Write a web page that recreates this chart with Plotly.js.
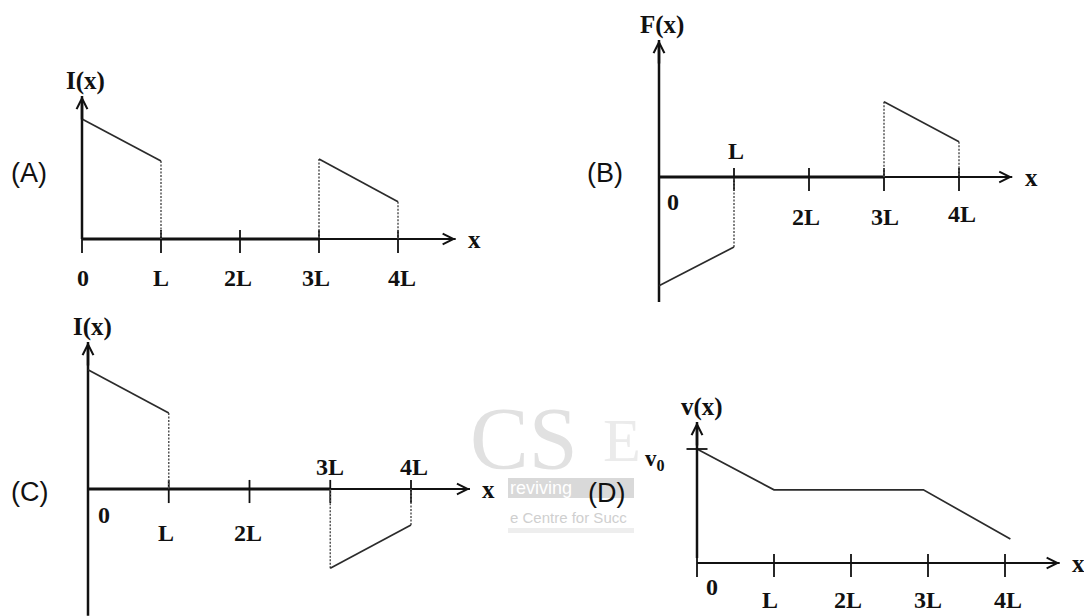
<!DOCTYPE html>
<html><head><meta charset="utf-8">
<script src="https://cdn.plot.ly/plotly-3.0.1.min.js"></script>
<style>html,body{margin:0;padding:0;background:#fff}#chart{width:1084px;height:616px}</style>
</head><body><div id="chart"></div>
<script>
// ---------- data (x in units of L) ----------
const xTicks = [0, 1, 2, 3, 4];
const tickLabels = ['0', 'L', '2L', '3L', '4L'];

// (A) I(x)
const aSeg1X = [0, 1], aSeg1Y = [3.0, 1.95];
const aSeg2X = [3, 4], aSeg2Y = [2.0, 0.93];
// (B) F(x)
const bSeg1X = [0, 1], bSeg1Y = [-2.72, -1.75];
const bSeg2X = [3, 4], bSeg2Y = [1.88, 0.88];
// (C) I(x)
const cSeg1X = [0, 1], cSeg1Y = [2.98, 1.9];
const cSeg2X = [3, 4], cSeg2Y = [-1.98, -0.9];
// (D) v(x)
const dX = [0, 1, 2.94, 4.07];
const dY = [2.85, 1.83, 1.83, 0.6];
const v0 = 2.85;

// ---------- layout config ----------
const W = 1084, H = 616;
const INK = '#111111', LINE = '#2b2b2b', DOT = '#555555';
const SERIF = 'Liberation Serif, Times New Roman, serif';
const SANS = 'Liberation Sans, Arial, sans-serif';

const panels = [
  {tag:'(A)', tagPos:[29,173], title:'I(x)', titleDx:3, ox:82, oy:239, ux:79, uy:40, box:[60,500,30,300],
   yBot:0, yTop:3.575, xTip:4.73, segs:[[aSeg1X,aSeg1Y],[aSeg2X,aSeg2Y]], thick:true,
   offs:[[1,39],[0,39],[-2,39],[-3,39],[4,39]]},
  {tag:'(B)', tagPos:[605,173], title:'F(x)', titleDx:3, ox:659, oy:177, ux:75, uy:40, box:[620,1084,0,306],
   yBot:-3.125, yTop:3.425, xTip:4.71, segs:[[bSeg1X,bSeg1Y],[bSeg2X,bSeg2Y]], thick:true,
   offs:[[14,25],[2,-26],[-3,40],[1,40],[3,37]]},
  {tag:'(C)', tagPos:[29,492], title:'I(x)', titleDx:4, ox:88, oy:489, ux:80.75, uy:40, box:[60,500,310,616],
   yBot:-3.17, yTop:3.675, xTip:4.73, segs:[[cSeg1X,cSeg1Y],[cSeg2X,cSeg2Y]], thick:true,
   offs:[[16,26],[-3,44],[-2,44],[0,-22],[3,-22]]},
  {tag:'(D)', tagPos:[606,493], title:'v(x)', titleDx:5, ox:697, oy:563, ux:77, uy:40, box:[640,1084,380,616],
   yBot:0.125, yTop:3.525, xTip:4.71, segs:[[dX,dY]], thick:false, v0:true,
   offs:[[15,24],[-4,37],[-3,37],[0,37],[3,37]]}
];

const layout = {
  width:W, height:H, autosize:false, margin:{l:0,r:0,t:0,b:0,pad:0},
  paper_bgcolor:'#ffffff', plot_bgcolor:'rgba(0,0,0,0)', showlegend:false, hovermode:false,
  annotations:[], shapes:[]
};
const traces = [];

function paperAnn(px, py, text, font, extra) {
  return Object.assign({xref:'paper', yref:'paper', x:px/W, y:1-py/H, text:text, showarrow:false, font:font,
    xanchor:'center', yanchor:'middle'}, extra||{});
}

// ---------- watermark (faint) ----------
layout.shapes.push({type:'rect', xref:'paper', yref:'paper', x0:508/W, x1:634/W, y0:1-498/H, y1:1-478/H,
  fillcolor:'#d9d9d9', line:{width:0}, layer:'below'});
layout.shapes.push({type:'rect', xref:'paper', yref:'paper', x0:508/W, x1:634/W, y0:1-533/H, y1:1-528/H,
  fillcolor:'#eeeeee', line:{width:0}, layer:'below'});
layout.annotations.push(paperAnn(580, 438, 'CS', {family:SERIF, size:88, color:'#e1e1e1'}, {xanchor:'right'}));
layout.annotations.push(paperAnn(601, 440, 'E', {family:SERIF, size:62, color:'#ebebeb'}, {xanchor:'left'}));
layout.annotations.push(paperAnn(508, 488, 'reviving', {family:SANS, size:18, color:'#ffffff'}, {xanchor:'left'}));
layout.annotations.push(paperAnn(508, 517, 'e Centre for Succ', {family:SANS, size:15, color:'#cfcfcf'}, {xanchor:'left'}));

// ---------- panels ----------
panels.forEach((p, i) => {
  const n = i === 0 ? '' : String(i + 1);
  const xa = 'x' + n, ya = 'y' + n;
  const [L, R, T, B] = p.box;
  layout['xaxis' + n] = {domain:[L/W, R/W], range:[(L-p.ox)/p.ux, (R-p.ox)/p.ux], anchor:ya,
    visible:false, fixedrange:true, showgrid:false, zeroline:false};
  layout['yaxis' + n] = {domain:[1-B/H, 1-T/H], range:[(p.oy-B)/p.uy, (p.oy-T)/p.uy], anchor:xa,
    visible:false, fixedrange:true, showgrid:false, zeroline:false};

  // axis lines (drawn through the axes' own scales)
  traces.push({type:'scatter', mode:'lines', xaxis:xa, yaxis:ya, x:[xTicks[0], p.xTip], y:[0, 0],
    line:{color:INK, width:2}});
  traces.push({type:'scatter', mode:'lines', xaxis:xa, yaxis:ya, x:[xTicks[0], xTicks[0]], y:[p.yBot, p.yTop],
    line:{color:INK, width:2.5}});

  // arrow heads
  layout.annotations.push({xref:xa, yref:ya, axref:xa, ayref:ya, x:p.xTip, y:0, ax:p.xTip - 0.3, ay:0,
    text:'', font:{size:1}, borderpad:0, showarrow:true, arrowhead:5, arrowsize:1.05, arrowwidth:2, arrowcolor:INK});
  layout.annotations.push({xref:xa, yref:ya, axref:xa, ayref:ya, x:xTicks[0], y:p.yTop, ax:xTicks[0], ay:p.yTop - 0.6,
    text:'', font:{size:1}, borderpad:0, showarrow:true, arrowhead:5, arrowsize:0.85, arrowwidth:2.5, arrowcolor:INK});

  // heavier baseline from 0 to 3L
  if (p.thick) {
    traces.push({type:'scatter', mode:'lines', xaxis:xa, yaxis:ya, x:[xTicks[0], xTicks[3]], y:[0, 0],
      line:{color:INK, width:3.2}});
  }

  // tick marks crossing the x axis
  traces.push({type:'scatter', mode:'markers', xaxis:xa, yaxis:ya, x:xTicks, y:xTicks.map(() => -2.5/p.uy),
    marker:{symbol:'line-ns-open', size:16.5, color:INK, line:{width:1.8, color:INK}}, cliponaxis:false});

  // dotted drop lines from segment ends to the axis
  const dx = [], dy = [];
  if (!p.v0) {
    p.segs.forEach(([sx, sy]) => {
      sx.forEach((xv, k) => { if (xv !== 0) { dx.push(xv, xv, null); dy.push(sy[k], 0, null); } });
    });
  }
  if (dx.length) {
    traces.push({type:'scatter', mode:'lines', xaxis:xa, yaxis:ya, x:dx, y:dy,
      line:{color:DOT, width:1.5, dash:'2px,1.5px'}});
  }

  // function segments
  p.segs.forEach(([sx, sy]) => {
    traces.push({type:'scatter', mode:'lines', xaxis:xa, yaxis:ya, x:sx, y:sy,
      line:{color:LINE, width:1.7}});
  });

  // v0 tick on the y axis
  if (p.v0) {
    traces.push({type:'scatter', mode:'markers', xaxis:xa, yaxis:ya, x:[xTicks[0]], y:[v0],
      marker:{symbol:'line-ew-open', size:15, color:INK, line:{width:1.8, color:INK}}, cliponaxis:false});
    layout.annotations.push({xref:xa, yref:ya, x:xTicks[0], y:v0, xshift:-42, yshift:-11, showarrow:false,
      text:'<b>v<sub>0</sub></b>', font:{family:SERIF, size:23, color:INK}});
  }

  // tick labels
  tickLabels.forEach((t, k) => {
    layout.annotations.push({xref:xa, yref:ya, x:xTicks[k], y:0, xshift:p.offs[k][0], yshift:-p.offs[k][1],
      showarrow:false, text:'<b>' + t + '</b>', font:{family:SERIF, size:24, color:INK}});
  });

  // axis titles
  layout.annotations.push({xref:xa, yref:ya, x:xTicks[0], y:p.yTop, xshift:p.titleDx, yshift:15, showarrow:false,
    text:'<b>' + p.title + '</b>', font:{family:SERIF, size:25, color:INK}});
  layout.annotations.push({xref:xa, yref:ya, x:p.xTip, y:0, xshift:19, yshift:0, showarrow:false,
    text:'<b>x</b>', font:{family:SERIF, size:25, color:INK}});

  // panel tag
  layout.annotations.push(paperAnn(p.tagPos[0], p.tagPos[1], p.tag, {family:SANS, size:27, color:INK}));
});

Plotly.newPlot('chart', traces, layout, {staticPlot:true, displayModeBar:false});
</script>
</body></html>
